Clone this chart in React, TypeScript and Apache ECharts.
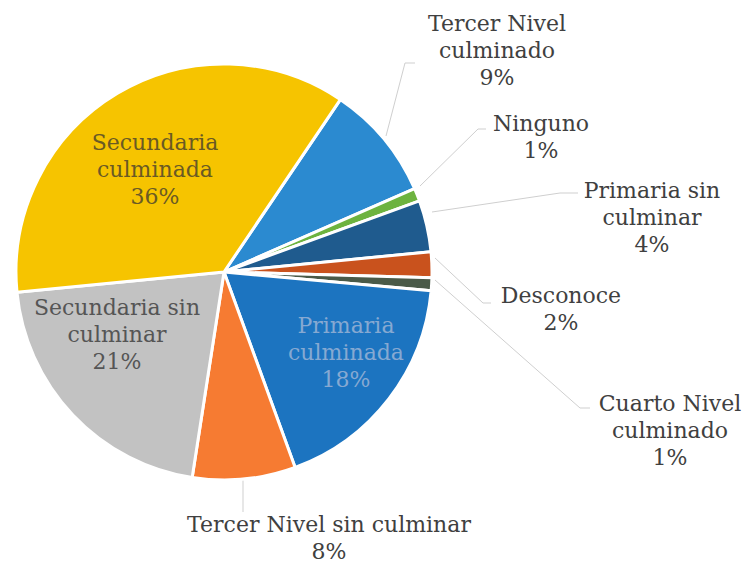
import React, { useEffect, useRef } from "react";
import * as echarts from "echarts";

const categories = [
  "Tercer Nivel\nculminado",
  "Ninguno",
  "Primaria sin\nculminar",
  "Desconoce",
  "Cuarto Nivel\nculminado",
  "Primaria\nculminada",
  "Tercer Nivel sin culminar",
  "Secundaria sin\nculminar",
  "Secundaria\nculminada",
];
const values = [9, 1, 4, 2, 1, 18, 8, 21, 36];
const colors = ["#2B8AD0", "#6DB33F", "#1F5B8E", "#C9521D", "#4A5A48", "#1C74C0", "#F67B32", "#C2C2C2", "#F6C400"];
const insideIdx = [5, 7, 8];
const insideTextColors: Record<number, string> = { 5: "#86A9D2", 7: "#555555", 8: "#6A5A24" };

// label layout (centre of text block) and leader line points
const labelPos: number[][] = [
  [497, 50],
  [541, 137],
  [652, 217],
  [561, 309],
  [670, 430],
  [346, 352],
  [329, 538],
  [117, 334],
  [155, 169],
];
const leaderPts: (number[][] | null)[] = [
  [[386, 136], [405, 63], [415, 63]],
  [[420, 186], [478, 129], [486, 129]],
  [[432, 212], [560, 193], [578, 193]],
  [[435, 258], [483, 303], [491, 303]],
  [[435, 280], [580, 408], [590, 408]],
  null,
  [[243, 480], [243, 500], [243, 512]],
  null,
  null,
];

export default function App() {
  const ref = useRef<HTMLDivElement>(null);
  useEffect(() => {
    if (!ref.current) return;
    const chart = echarts.init(ref.current, null, { renderer: "svg" });
    const data = categories.map((name, i) => {
      const inside = insideIdx.includes(i);
      return {
        name,
        value: values[i],
        itemStyle: { color: colors[i] },
        label: inside ? { color: insideTextColors[i] } : {},
        labelLine: { show: !inside },
      };
    });
    chart.setOption({
      animation: false,
      backgroundColor: "#ffffff",
      series: [
        {
          type: "pie",
          center: [224, 272],
          radius: [0, 208],
          startAngle: 56,
          clockwise: true,
          avoidLabelOverlap: false,
          itemStyle: { borderColor: "#ffffff", borderWidth: 3 },
          label: {
            show: true,
            formatter: (p: any) => `${p.name}\n${p.value}%`,
            fontFamily: "DejaVu Serif",
            fontSize: 22,
            lineHeight: 27,
            color: "#404040",
            align: "center",
          },
          labelLine: { show: true, lineStyle: { color: "#CFCFCF", width: 1 } },
          labelLayout: (params: any) => {
            const i = params.dataIndex;
            const res: any = {
              x: labelPos[i][0],
              y: labelPos[i][1],
              align: "center",
              verticalAlign: "middle",
            };
            if (leaderPts[i]) res.labelLinePoints = leaderPts[i];
            return res;
          },
          data,
        },
      ],
    });
    return () => chart.dispose();
  }, []);
  return <div ref={ref} style={{ position: "fixed", left: 0, top: 0, width: 744, height: 563 }} />;
}
